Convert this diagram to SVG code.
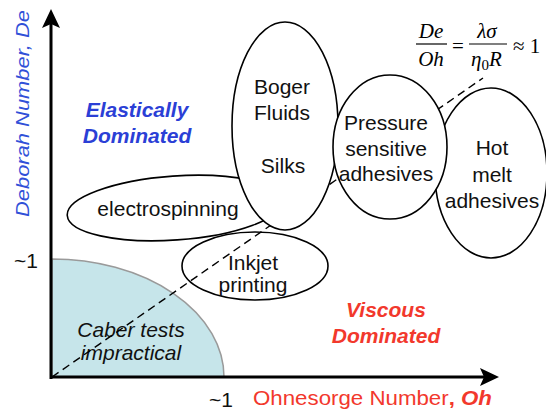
<svg xmlns="http://www.w3.org/2000/svg" width="546" height="412" viewBox="0 0 546 412">
  <style>
    .node { fill: #ffffff; stroke: #000000; stroke-width: 1.6; }
    .open { fill: none; stroke: #000000; stroke-width: 1.6; }
    .lbl { font-family: "Liberation Sans", Arial, sans-serif; font-size: 21px; fill: #111111; text-anchor: middle; }
    .blue { font-family: "Liberation Sans", Arial, sans-serif; font-size: 21px; font-weight: bold; font-style: italic; fill: #2b3fd6; text-anchor: middle; }
    .red { font-family: "Liberation Sans", Arial, sans-serif; font-size: 21px; font-weight: bold; font-style: italic; fill: #f2382c; text-anchor: middle; }
    .math { font-family: "Liberation Serif", "Times New Roman", serif; font-size: 21px; fill: #000000; }
    .axis { stroke: #000000; stroke-width: 3; fill: none; }
  </style>

  <rect width="546" height="412" fill="#ffffff"/>

  <!-- region where Caber tests are impractical -->
  <g id="caber-region">
    <path d="M52,259 A172,118 0 0 1 224,377 L52,377 Z" fill="#c6e5ea" stroke="#9a9a9a" stroke-width="1.5"/>
    <text class="lbl" x="131" y="337" font-style="italic" font-size="19">Caber tests</text>
    <text class="lbl" x="131" y="360" font-style="italic" font-size="19">impractical</text>
  </g>

  <!-- connectors: De/Oh ~ 1 dashed line -->
  <g id="connectors">
    <line x1="52" y1="377" x2="483" y2="78" stroke="#000000" stroke-width="1.4" stroke-dasharray="8,5"/>
  </g>

  <g id="electrospinning">
    <ellipse class="node" cx="175" cy="208" rx="108" ry="32" transform="rotate(-4 175 208)"/>
    <text class="lbl" x="168" y="216">electrospinning</text>
  </g>

  <g id="boger-fluids">
    <ellipse class="node" cx="285" cy="126" rx="53" ry="104"/>
    <text class="lbl" x="282" y="94">Boger</text>
    <text class="lbl" x="282" y="120">Fluids</text>
    <text class="lbl" x="283" y="173">Silks</text>
  </g>

  <g id="hot-melt">
    <ellipse class="node" cx="491" cy="173" rx="56" ry="85"/>
    <text class="lbl" x="492" y="155">Hot</text>
    <text class="lbl" x="492" y="182">melt</text>
    <text class="lbl" x="492" y="208">adhesives</text>
  </g>

  <g id="pressure-sensitive">
    <ellipse class="node" cx="390" cy="147" rx="57" ry="72"/>
    <text class="lbl" x="386" y="130">Pressure</text>
    <text class="lbl" x="386" y="156">sensitive</text>
    <text class="lbl" x="386" y="181">adhesives</text>
  </g>

  <g id="inkjet">
    <ellipse class="open" cx="255" cy="266" rx="73" ry="34"/>
    <text class="lbl" x="253" y="270">Inkjet</text>
    <text class="lbl" x="253" y="292">printing</text>
  </g>

  <!-- regime labels -->
  <g id="elastic-label">
    <text class="blue" x="137" y="117">Elastically</text>
    <text class="blue" x="137" y="143">Dominated</text>
  </g>
  <g id="viscous-label">
    <text class="red" x="386" y="317">Viscous</text>
    <text class="red" x="386" y="343">Dominated</text>
  </g>

  <!-- axes -->
  <g id="axes">
    <line class="axis" x1="51" y1="379" x2="51" y2="24"/>
    <path d="M51,9 L42,28 L51,24 L60,28 Z" fill="#000000"/>
    <line class="axis" x1="50" y1="377" x2="484" y2="377"/>
    <path d="M499,377 L480,368 L484,377 L480,386 Z" fill="#000000"/>
    <text class="lbl" x="26" y="268" font-size="20">~1</text>
    <text class="lbl" x="221" y="407" font-size="20">~1</text>
    <text transform="translate(29,217) rotate(-90)" font-family="'Liberation Sans', Arial, sans-serif" font-size="19" font-style="italic" fill="#3050d8" textLength="207" lengthAdjust="spacingAndGlyphs">Deborah Number, De</text>
    <text x="253" y="405" font-family="'Liberation Sans', Arial, sans-serif" font-size="20" fill="#f2382c" textLength="239" lengthAdjust="spacingAndGlyphs">Ohnesorge Number<tspan font-weight="bold">,  </tspan><tspan font-weight="bold" font-style="italic">Oh</tspan></text>
  </g>

  <!-- relation De/Oh = lambda sigma / (eta0 R) ~ 1 -->
  <g id="relation">
    <text class="math" x="431" y="38" font-style="italic" text-anchor="middle">De</text>
    <line x1="416" y1="44" x2="447" y2="44" stroke="#000000" stroke-width="1.2"/>
    <text class="math" x="431" y="66" font-style="italic" text-anchor="middle">Oh</text>
    <text class="math" x="458" y="53" text-anchor="middle">=</text>
    <text class="math" x="487" y="38" font-style="italic" text-anchor="middle">λσ</text>
    <line x1="469" y1="44" x2="507" y2="44" stroke="#000000" stroke-width="1.2"/>
    <text class="math" x="471" y="66" font-style="italic">η<tspan font-style="normal" font-size="15" dy="4">0</tspan><tspan dy="-4">R</tspan></text>
    <text class="math" x="513" y="53">≈ 1</text>
  </g>
</svg>
